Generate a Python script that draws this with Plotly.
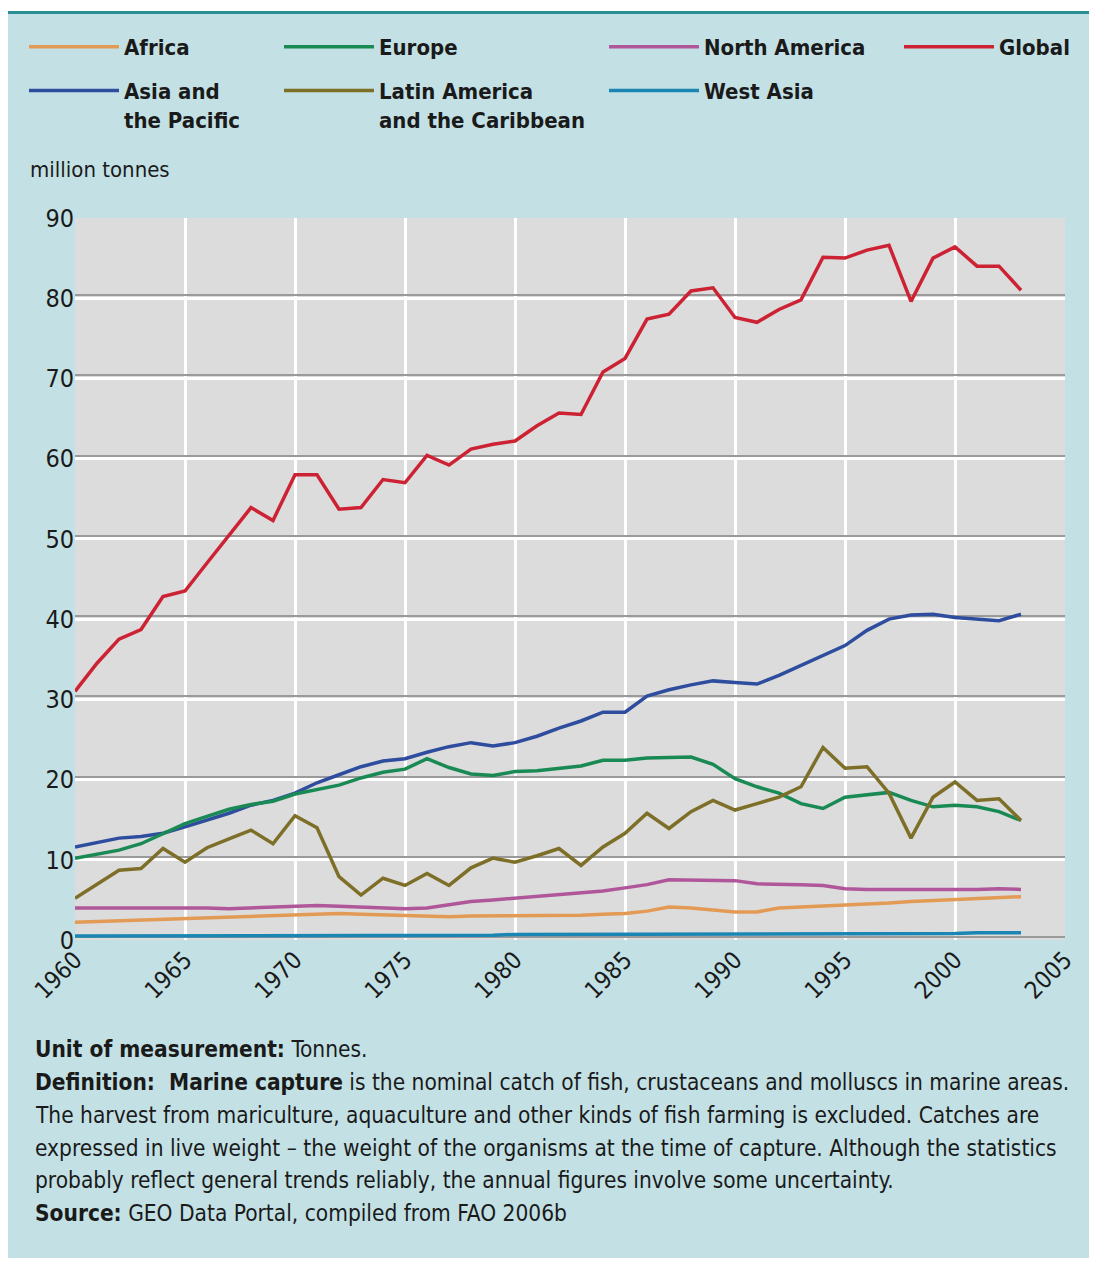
import plotly.graph_objects as go

years = list(range(1960, 2004))

africa = [2.2, 2.3, 2.4, 2.5, 2.6, 2.7, 2.8, 2.9, 3.0, 3.1,
          3.2, 3.3, 3.3, 3.2, 3.1, 3.0, 2.9, 2.9, 3.0, 3.0,
          3.0, 3.0, 3.1, 3.1, 3.2, 3.3, 3.6, 4.1, 4.0, 3.7,
          3.5, 3.5, 4.0, 4.1, 4.2, 4.3, 4.4, 4.6, 4.8, 4.9,
          5.0, 5.2, 5.3, 5.4]
asia_pacific = [11.6, 12.2, 12.7, 12.9, 13.3, 14.1, 14.9, 15.8, 16.8, 17.4,
                18.3, 19.6, 20.6, 21.6, 22.3, 22.6, 23.4, 24.1, 24.6, 24.2,
                24.6, 25.4, 26.4, 27.3, 28.4, 28.4, 30.4, 31.2, 31.8, 32.3,
                32.1, 31.9, 33.0, 34.2, 35.5, 36.7, 38.6, 40.0, 40.5, 40.6,
                40.2, 40.0, 39.8, 40.6]
europe = [10.2, 10.7, 11.2, 12.0, 13.2, 14.5, 15.4, 16.3, 16.9, 17.3,
          18.2, 18.7, 19.3, 20.2, 20.9, 21.3, 22.6, 21.5, 20.7, 20.5,
          21.0, 21.1, 21.4, 21.7, 22.4, 22.4, 22.7, 22.8, 22.8, 21.9,
          20.1, 19.1, 18.3, 17.0, 16.4, 17.8, 18.1, 18.4, 17.4, 16.6,
          16.8, 16.6, 16.0, 14.9]
latin_america = [5.2, 7.0, 8.7, 8.9, 11.4, 9.7, 11.5, 12.6, 13.7, 12.0,
                 15.5, 14.0, 7.9, 5.6, 7.7, 6.8, 8.3, 6.8, 9.0, 10.2,
                 9.7, 10.5, 11.4, 9.3, 11.6, 13.3, 15.8, 13.9, 16.0, 17.4,
                 16.2, 17.0, 17.8, 19.1, 24.0, 21.4, 21.6, 18.3, 12.7, 17.8,
                 19.7, 17.4, 17.6, 14.9]
north_america = [4.0, 4.0, 4.1, 4.1, 4.1, 4.0, 4.0, 3.9, 4.0, 4.1,
                 4.3, 4.3, 4.2, 4.1, 4.0, 3.9, 4.0, 4.4, 4.8, 5.0,
                 5.2, 5.4, 5.6, 5.8, 6.1, 6.5, 6.9, 7.5, 7.5, 7.4,
                 7.4, 7.0, 7.0, 6.9, 6.8, 6.4, 6.3, 6.3, 6.2, 6.2,
                 6.2, 6.3, 6.4, 6.3]
west_asia = [0.5, 0.5, 0.5, 0.5, 0.5, 0.6, 0.6, 0.6, 0.6, 0.6,
             0.6, 0.6, 0.6, 0.6, 0.6, 0.6, 0.6, 0.6, 0.6, 0.6,
             0.7, 0.7, 0.7, 0.7, 0.7, 0.7, 0.7, 0.7, 0.7, 0.7,
             0.7, 0.7, 0.7, 0.7, 0.8, 0.8, 0.8, 0.8, 0.8, 0.8,
             0.8, 0.9, 0.9, 0.9]
global_total = [31.0, 34.5, 37.5, 38.7, 42.8, 43.5, 47.0, 50.5, 53.9, 52.3,
                58.0, 58.0, 53.7, 53.9, 57.4, 57.0, 60.4, 59.2, 61.2, 61.8,
                62.2, 64.1, 65.7, 65.5, 70.8, 72.5, 77.4, 78.0, 80.9, 81.3,
                77.6, 77.0, 78.6, 79.8, 85.1, 85.0, 86.0, 86.6, 79.6, 85.0,
                86.4, 84.0, 84.0, 81.0]

x_ticks = list(range(1960, 2006, 5))
y_ticks = list(range(0, 91, 10))

BG = "#c3e1e5"
PLOT_BG = "#dcdcdc"
FONT = "Liberation Sans Narrow, DejaVu Sans Condensed, Arial Narrow, sans-serif"
TXT = "#1a1a1a"

series = [
    ("Africa", africa, "#e39a55", "legend"),
    ("Asia and<br>the Pacific", asia_pacific, "#2f4d9e", "legend"),
    ("Europe", europe, "#1a8a55", "legend2"),
    ("Latin America<br>and the Caribbean", latin_america, "#7d6f27", "legend2"),
    ("North America", north_america, "#b0579b", "legend3"),
    ("West Asia", west_asia, "#1b86b3", "legend3"),
    ("Global", global_total, "#cc2233", "legend4"),
]

fig = go.Figure()
for name, vals, color, leg in series:
    fig.add_trace(go.Scatter(
        x=years, y=vals, mode="lines", name=name,
        line=dict(color=color, width=3.5),
        legend=leg, legendgroup=name,
    ))

# invisible trace on overlay axis, used only to draw the grid shadow lines
fig.add_trace(go.Scatter(x=[1960], y=[0], yaxis="y2", mode="markers",
                         marker=dict(opacity=0), showlegend=False, hoverinfo="skip"))

# page is offset by the 8px body margin; work in figure pixels
L, R, T, B = 67, 31, 210, 318
W, H = 1088, 1250
PW, PH = W - L - R, H - T - B
def px(X):
    return (X - L) / PW
def py(Y):
    return (H - B - Y) / PH

leg_common = dict(
    bgcolor="rgba(0,0,0,0)", font=dict(family=FONT, size=22, color=TXT, weight="bold"),
    itemwidth=90, valign="top", traceorder="grouped", tracegroupgap=12,
    yanchor="top", xanchor="left", itemclick=False,
)

fig.update_layout(
    width=W, height=H,
    margin=dict(l=L, r=R, t=T, b=B),
    paper_bgcolor=BG, plot_bgcolor=PLOT_BG,
    font=dict(family=FONT, color=TXT),
    legend=dict(x=px(16), y=py(18), **leg_common),
    legend2=dict(x=px(271), y=py(18), **leg_common),
    legend3=dict(x=px(596), y=py(18), **leg_common),
    legend4=dict(x=px(891), y=py(18), **leg_common),
    xaxis=dict(range=[1960, 2005], tickvals=x_ticks, tickangle=-45,
               showgrid=True, gridcolor="white", gridwidth=2.5,
               zeroline=False, showline=False, ticks="",
               tickfont=dict(family=FONT, size=24, color=TXT)),
    yaxis=dict(range=[0, 90], tickvals=y_ticks, showgrid=True,
               gridcolor="white", gridwidth=3, zeroline=False,
               showline=False, ticks="",
               tickfont=dict(family=FONT, size=25, color=TXT)),
    yaxis2=dict(range=[-0.38, 89.62], overlaying="y", tickvals=y_ticks,
                showgrid=True, gridcolor="#9a9a9a", gridwidth=1.5,
                showticklabels=False, zeroline=False, showline=False, ticks=""),
    showlegend=True,
)

TF = dict(family=FONT, size=22.5, color=TXT)
annotations = [
    dict(text="million tonnes", x=px(20), y=py(162), xanchor="left", yanchor="middle",
         font=dict(family=FONT, size=22, color=TXT)),
    dict(text="<b>Unit of measurement:</b> Tonnes.", x=px(25), y=py(1041),
         xanchor="left", yanchor="middle", font=TF),
    dict(text="<b>Definition:  Marine capture</b> is the nominal catch of fish, crustaceans and molluscs in marine areas.",
         x=px(25), y=py(1074), xanchor="left", yanchor="middle", font=TF),
    dict(text="The harvest from mariculture, aquaculture and other kinds of fish farming is excluded. Catches are",
         x=px(25), y=py(1107), xanchor="left", yanchor="middle", font=TF),
    dict(text="expressed in live weight \u2013 the weight of the organisms at the time of capture. Although the statistics",
         x=px(25), y=py(1140), xanchor="left", yanchor="middle", font=TF),
    dict(text="probably reflect general trends reliably, the annual figures involve some uncertainty.",
         x=px(25), y=py(1172), xanchor="left", yanchor="middle", font=TF),
    dict(text="<b>Source:</b> GEO Data Portal, compiled from FAO 2006b",
         x=px(25), y=py(1205), xanchor="left", yanchor="middle", font=TF),
]
for a in annotations:
    a.update(xref="paper", yref="paper", showarrow=False)
fig.update_layout(annotations=annotations)

shapes = [
    dict(type="rect", xref="paper", yref="paper", x0=px(0), x1=px(W), y0=py(0), y1=py(3),
         fillcolor="white", line=dict(width=0)),
    dict(type="rect", xref="paper", yref="paper", x0=px(0), x1=px(W), y0=py(3), y1=py(6),
         fillcolor="#2a8f95", line=dict(width=0)),
]
fig.update_layout(shapes=shapes)

fig.write_html("out.html")
